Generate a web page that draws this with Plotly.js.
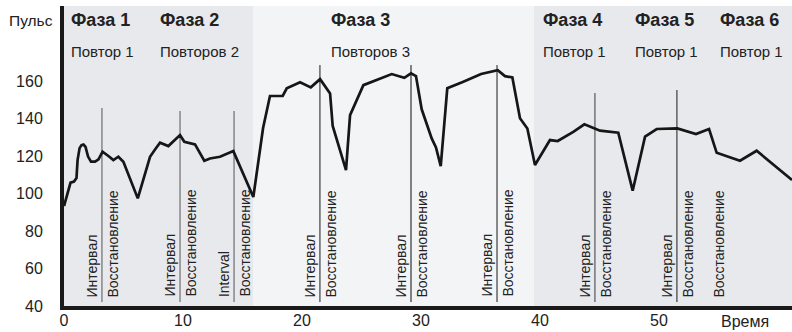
<!DOCTYPE html>
<html>
<head>
<meta charset="utf-8">
<script src="https://cdn.plot.ly/plotly-3.0.1.min.js"></script>
<style>
html,body{margin:0;padding:0;background:#fff;}
#chart{width:792px;height:332px;}
</style>
</head>
<body>
<div id="chart"></div>
<script>
// ---- data ----
var timeMin = [0, 0.34, 0.55, 0.84, 1.05, 1.14, 1.31, 1.47, 1.64, 1.81, 2.02, 2.27, 2.61, 2.90, 3.24, 3.73, 4.15, 4.57, 4.99, 6.20,
  6.81, 7.23, 7.65, 8.07, 8.77, 9.75, 10.11, 11.01, 11.79, 12.27, 13.11, 14.23, 15.91, 16.14, 16.39, 16.73, 17.31, 18.38, 18.72, 19.84,
  20.74, 21.52, 22.36, 22.58, 23.70, 24.04, 25.16, 27.54, 28.60, 29.16, 29.58, 30.06, 30.90, 31.26, 31.66, 32.21, 33.56, 35.05, 36.45, 37.06,
  37.68, 38.32, 38.94, 39.58, 40.84, 41.49, 42.80, 43.73, 45.05, 46.58, 47.79, 48.83, 49.81, 51.54, 53.11, 54.21, 54.85, 56.81, 58.21, 61.18];
var pulse = [93.3, 101.8, 105.8, 106.4, 108.2, 117.8, 124.2, 125.8, 126.1, 124.8, 119.7, 117.0, 117.0, 118.2, 122.3, 120.0, 117.8, 119.6, 116.9, 97.4,
  110.7, 119.6, 123.5, 127.1, 125.3, 131.2, 127.6, 126.2, 117.5, 118.7, 119.6, 122.6, 98.1, 108.2, 118.9, 134.9, 152.0, 152.0, 156.1, 159.3,
  156.6, 161.0, 153.4, 136.0, 112.5, 141.8, 157.8, 163.7, 161.7, 164.1, 162.6, 144.9, 129.4, 124.6, 114.6, 156.1, 159.6, 163.7, 165.8, 162.6,
  161.9, 140.1, 134.7, 115.2, 128.5, 128.0, 132.9, 136.9, 133.5, 132.4, 101.5, 130.3, 134.4, 134.7, 131.7, 134.4, 121.7, 117.5, 122.8, 107.2];

var phaseNames = ["Фаза 1", "Фаза 2", "Фаза 3", "Фаза 4", "Фаза 5", "Фаза 6"];
var phaseReps = ["Повтор 1", "Повторов 2", "Повторов 3", "Повтор 1", "Повтор 1", "Повтор 1"];
var phaseStart = [0.42, 7.9, 22.27, 40.08, 47.82, 54.96];
var phase3Span = [15.88, 39.5];

var intervalEnd = [3.19, 9.75, 14.29, 21.51, 29.16, 36.39, 44.62, 51.51];
var intervalPeak = [145.6, 144, 144, 168.5, 168.5, 168.5, 153.6, 155.2];
var intervalText = ["Интервал", "Интервал", "Interval", "Интервал", "Интервал", "Интервал", "Интервал", "Интервал"];
var recoveryStart = [3.19, 9.75, 14.29, 21.51, 29.16, 36.39, 44.62, 51.51, 54.12];
var recoveryText = "Восстановление";

var yTicks = [40, 60, 80, 100, 120, 140, 160];
var xTicks = [0, 10, 20, 30, 40, 50];
var yTitle = "Пульс";
var xTitle = "Время";

// ---- styles ----
var FONT = "Liberation Sans, Arial, sans-serif";
var TXT = "#222";
var markerColors = ["#555", "#555", "#555", "#1a1a1a", "#808080", "#1a1a1a", "#3a3a3a", "#1a1a1a"];
var markerWidths = [1, 1, 1, 1, 2, 1, 1, 1];

var traces = [];
for (var i = 0; i < intervalEnd.length; i++) {
  traces.push({
    x: [intervalEnd[i], intervalEnd[i]], y: [42.1, intervalPeak[i]],
    mode: "lines", line: {color: markerColors[i], width: markerWidths[i]},
    hoverinfo: "skip", showlegend: false
  });
}
traces.push({
  x: timeMin, y: pulse, mode: "lines",
  line: {color: "#161616", width: 2.7},
  showlegend: false
});

var ann = [];
for (var p = 0; p < phaseNames.length; p++) {
  ann.push({x: phaseStart[p], y: 192.5, xref: "x", yref: "y", text: "<b>" + phaseNames[p] + "</b>",
    showarrow: false, xanchor: "left", yanchor: "middle", font: {family: FONT, size: 18, color: TXT}});
  ann.push({x: phaseStart[p], y: 176, xref: "x", yref: "y", text: phaseReps[p],
    showarrow: false, xanchor: "left", yanchor: "middle", font: {family: FONT, size: 15, color: TXT}});
}
for (var k = 0; k < intervalEnd.length; k++) {
  ann.push({x: intervalEnd[k], y: 43.7, xref: "x", yref: "y", text: intervalText[k], textangle: -90,
    showarrow: false, xanchor: "center", yanchor: "bottom", xshift: -10,
    font: {family: FONT, size: 14, color: TXT}});
}
for (var r = 0; r < recoveryStart.length; r++) {
  ann.push({x: recoveryStart[r], y: 43.7, xref: "x", yref: "y", text: recoveryText, textangle: -90,
    showarrow: false, xanchor: "center", yanchor: "bottom", xshift: 11,
    font: {family: FONT, size: 14, color: TXT}});
}
ann.push({x: -0.0453, y: 0.953, xref: "paper", yref: "paper", text: yTitle, showarrow: false,
  xanchor: "center", yanchor: "middle", font: {family: FONT, size: 15.5, color: TXT}});
ann.push({x: 0.9354, y: -0.05, xref: "paper", yref: "paper", text: xTitle, showarrow: false,
  xanchor: "center", yanchor: "middle", font: {family: FONT, size: 16, color: TXT}});

var layout = {
  width: 792, height: 332,
  margin: {l: 64, r: 0, t: 6, b: 26, pad: 0},
  paper_bgcolor: "#ffffff",
  plot_bgcolor: "#e8e9ed",
  showlegend: false,
  xaxis: {
    range: [0, 61.18], tickvals: xTicks, ticktext: xTicks.map(String),
    showgrid: false, zeroline: false, showline: true, linewidth: 4, linecolor: "#1a1a1a",
    ticks: "", ticklabelstandoff: -3,
    tickfont: {family: FONT, size: 16, color: TXT}
  },
  yaxis: {
    range: [40, 200], tickvals: yTicks, ticktext: yTicks.map(String),
    showgrid: false, zeroline: false, showline: true, linewidth: 4, linecolor: "#1a1a1a",
    ticks: "outside", ticklen: 14, tickcolor: "rgba(0,0,0,0)",
    tickfont: {family: FONT, size: 16, color: TXT}
  },
  shapes: [{type: "rect", xref: "x", yref: "paper", x0: phase3Span[0], x1: phase3Span[1], y0: 0, y1: 1,
    fillcolor: "#f3f4f6", line: {width: 0}, layer: "below"}],
  annotations: ann
};

Plotly.newPlot("chart", traces, layout, {staticPlot: true, displayModeBar: false});
</script>
</body>
</html>
